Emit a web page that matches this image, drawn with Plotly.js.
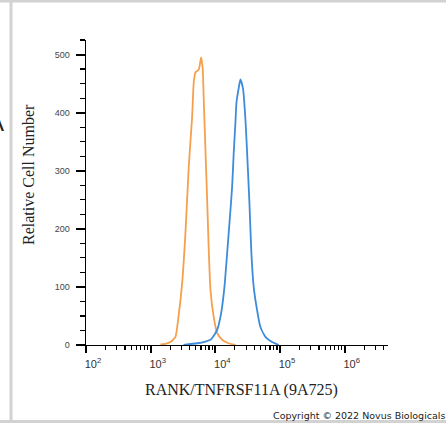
<!DOCTYPE html>
<html>
<head>
<meta charset="utf-8">
<script src="https://cdn.plot.ly/plotly-3.0.1.min.js"></script>
<style>html,body{margin:0;padding:0;background:#fff;}#chart{width:446px;height:423px;}</style>
</head>
<body>
<div id="chart"></div>
<script>
// Isotype / control (orange) histogram
const orangeX = [1416, 1690, 2022, 2417, 2690, 3070, 3452, 3882, 4376, 4636, 4924, 5539, 6034, 6387, 6620, 7033, 7470, 7911, 8402, 9446, 10660, 12740, 15930, 20450];
const orangeY = [1, 2, 5, 14, 48, 107, 193, 307, 393, 452, 469, 474, 495, 474, 422, 336, 250, 164, 95, 48, 21, 9, 3, 0];
// RANK/TNFRSF11A stained (blue) histogram
const blueX = [3215, 5240, 7033, 8402, 8930, 10660, 12300, 13840, 15220, 16700, 18200, 19250, 20450, 21200, 22800, 24430, 26900, 29200, 31000, 33650, 36100, 39200, 44200, 49750, 59450, 75500, 95500];
const blueY = [0, 3, 6, 9, 12, 26, 55, 100, 158, 216, 273, 331, 383, 417, 440, 457, 440, 388, 331, 245, 158, 100, 60, 31, 14, 5, 0];
// Axis ticks
const xTickVals = [1e2, 1e3, 1e4, 1e5, 1e6];
const xTickText = ['10<sup>2</sup>', '10<sup>3</sup>', '10<sup>4</sup>', '10<sup>5</sup>', '10<sup>6</sup>'];
const yTickVals = [0, 100, 200, 300, 400, 500];
const xTitle = 'RANK/TNFRSF11A (9A725)';
const yTitle = 'Relative Cell Number';
const copyright = 'Copyright © 2022 Novus Biologicals';

// minor tick positions derived from the major ticks
const xMinor = [];
xTickVals.forEach(d => { for (let k = 2; k <= 9; k++) xMinor.push(k * d); });
const yMinor = [];
for (let v = 0; v <= 525; v += 25) if (v % 100 !== 0) yMinor.push(v);

const X_RANGE = [2.0, 6.67];
const Y_RANGE = [0, 525];

const L = 86, R = 58, T = 40, B = 78, W = 446, H = 423;
const pw = W - L - R, ph = H - T - B;
const px = v => (v - L) / pw;
const py = v => (H - B - v) / ph;

const traces = [
  {x: orangeX, y: orangeY, type: 'scatter', mode: 'lines', line: {color: '#F4A04C', width: 1.8, shape: 'spline', smoothing: 0.5}, hoverinfo: 'skip'},
  {x: blueX, y: blueY, type: 'scatter', mode: 'lines', line: {color: '#3C8CDA', width: 1.8, shape: 'spline', smoothing: 0.5}, hoverinfo: 'skip'},
  {x: [1e3], y: [0], xaxis: 'x2', yaxis: 'y2', type: 'scatter', mode: 'markers', marker: {size: 0.1, opacity: 0}, hoverinfo: 'skip', showlegend: false}
];

const minorAxis = {showline: false, showgrid: false, zeroline: false, showticklabels: false, ticks: 'outside', tickwidth: 1.2, tickcolor: '#000', tickmode: 'array'};

const layout = {
  width: W, height: H,
  margin: {l: L, r: R, t: T, b: B, pad: 0},
  paper_bgcolor: '#fff', plot_bgcolor: '#fff',
  showlegend: false,
  xaxis: {
    type: 'log', range: X_RANGE,
    tickmode: 'array', tickvals: xTickVals, ticktext: xTickText,
    ticks: 'outside', ticklen: 7, tickwidth: 2.2, tickcolor: '#000',
    showline: true, linecolor: '#000', linewidth: 1.4,
    showgrid: false, zeroline: false,
    ticklabelshift: 7, ticklabelstandoff: 1,
    tickfont: {family: 'Liberation Sans, Arial, sans-serif', size: 11, color: '#333'}
  },
  yaxis: {
    range: Y_RANGE,
    tickmode: 'array', tickvals: yTickVals,
    ticks: 'outside', ticklen: 9, tickwidth: 2, tickcolor: '#000',
    showline: true, linecolor: '#000', linewidth: 1.4,
    showgrid: false, zeroline: false,
    ticklabelstandoff: 4,
    tickfont: {family: 'Liberation Sans, Arial, sans-serif', size: 9, color: '#444'}
  },
  xaxis2: Object.assign({}, minorAxis, {type: 'log', range: X_RANGE, overlaying: 'x', anchor: 'y', side: 'bottom', tickvals: xMinor, ticklen: 4}),
  yaxis2: Object.assign({}, minorAxis, {range: Y_RANGE, overlaying: 'y', anchor: 'x', side: 'left', tickvals: yMinor, ticklen: 5}),
  annotations: [
    {text: yTitle, xref: 'paper', yref: 'paper', x: px(28), y: py(175), xanchor: 'center', yanchor: 'middle', textangle: -90, showarrow: false,
     font: {family: 'Liberation Serif, Times New Roman, serif', size: 16, color: '#222'}},
    {text: xTitle, xref: 'paper', yref: 'paper', x: px(241.5), y: py(390), xanchor: 'center', yanchor: 'middle', showarrow: false,
     font: {family: 'Liberation Serif, Times New Roman, serif', size: 16, color: '#222'}},
    {text: copyright, xref: 'paper', yref: 'paper', x: px(447), y: py(415), xanchor: 'right', yanchor: 'middle', showarrow: false,
     font: {family: 'DejaVu Sans, sans-serif', size: 9.5, color: '#222'}},
    {text: 'A', xref: 'paper', yref: 'paper', x: px(-4), y: py(123), xanchor: 'center', yanchor: 'middle', showarrow: false,
     font: {family: 'Liberation Sans, Arial, sans-serif', size: 24, color: '#222'}}
  ],
  shapes: [
    {type: 'line', xref: 'paper', yref: 'paper', x0: px(11), x1: px(11), y0: py(0), y1: py(423), line: {color: '#d2d2d2', width: 3}},
    {type: 'line', xref: 'paper', yref: 'paper', x0: px(0), x1: px(446), y0: py(1), y1: py(1), line: {color: '#d2d2d2', width: 3}},
    {type: 'line', xref: 'paper', yref: 'paper', x0: px(0), x1: px(446), y0: py(421.5), y1: py(421.5), line: {color: '#d2d2d2', width: 3}}
  ]
};

Plotly.newPlot('chart', traces, layout, {staticPlot: true, displayModeBar: false});
</script>
</body>
</html>
